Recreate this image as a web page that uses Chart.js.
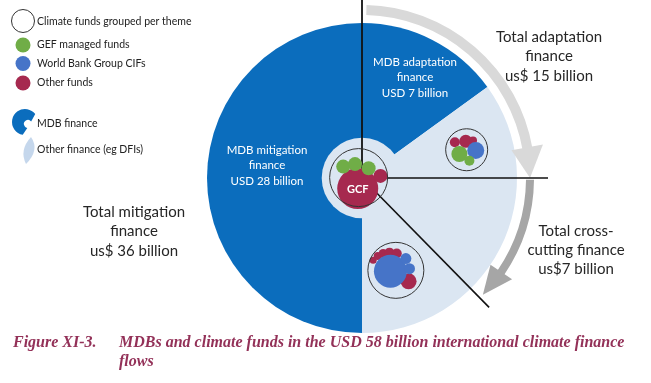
<!DOCTYPE html>
<html><head><meta charset="utf-8">
<script src="https://cdn.jsdelivr.net/npm/chart.js@4.4.0/dist/chart.umd.min.js"></script>
<style>
html,body{margin:0;padding:0;background:#fff;}
#wrap{position:relative;width:651px;height:383px;overflow:hidden;}
#wrap canvas{position:absolute;left:0;top:0;}
</style></head><body>
<div id="wrap"><canvas id="pie" width="651" height="383"></canvas><canvas id="funds" width="651" height="383"></canvas></div>
<script>
// ---- data ----
const sliceLabels = ['MDB mitigation finance', 'MDB adaptation finance', 'Other finance (eg DFIs)'];
const sliceShares = [180, 54, 126];            // share of the circle as drawn (degrees)
const mdbLabels = [['MDB mitigation', 'finance', 'USD 28 billion'], ['MDB adaptation', 'finance', 'USD 7 billion']];
const totalLabels = [
  ['Total mitigation', 'finance', 'us$ 36 billion'],
  ['Total adaptation', 'finance', 'us$ 15 billion'],
  ['Total cross-', 'cutting finance', 'us$7 billion']
];
const legendLabels = ['Climate funds grouped per theme', 'GEF managed funds', 'World Bank Group CIFs', 'Other funds', 'MDB finance', 'Other finance (eg DFIs)'];
const captionLabel = 'Figure XI-3.';
const captionLines = ['MDBs and climate funds in the USD 58 billion international climate finance', 'flows'];
// fund bubbles: offsets from the pie centre (x right, y up) and radius
const fundGroups = [{x: 0, y: 3, r: 29}, {x: 119, y: 36, r: 21}, {x: 41, y: -107, r: 28}];
const gefFunds = [{x: -17, y: 16, r: 7}, {x: -4, y: 19, r: 7}, {x: 11, y: 14, r: 7}, {x: 111, y: 31, r: 8}, {x: 122, y: 23, r: 5}];
const cifFunds = [{x: 129, y: 35, r: 8.5}, {x: 35, y: -108, r: 16.5}, {x: 52, y: -93, r: 5.5}, {x: 56, y: -105, r: 5.5}];
const otherFunds = [{x: -1, y: -10, r: 20.5}, {x: 24, y: 5, r: 7}, {x: 106, y: 45, r: 5}, {x: 118, y: 46, r: 6.5}, {x: 126, y: 47, r: 4},
  {x: 16, y: -95, r: 3.5}, {x: 21, y: -90, r: 4}, {x: 27, y: -87, r: 4.5}, {x: 34, y: -86, r: 5}, {x: 42, y: -87, r: 5}, {x: 55, y: -120, r: 8}];

// ---- styles ----
const DARK = '#0b6dbd', LIGHT = '#dbe6f2', GREEN = '#70ad47', BLUE = '#4674c8', RED = '#a6294f';
const SANS = 'Lato, "Open Sans", sans-serif';

function rad(deg) { return (deg - 90) * Math.PI / 180; } // north-clockwise degrees -> canvas angle
function pt(cx, cy, r, deg) { return [cx + r * Math.cos(rad(deg)), cy + r * Math.sin(rad(deg))]; }

function drawArrow(ctx, cx, cy, r, w, a0, a1, hw, a2, color) {
  ctx.strokeStyle = color; ctx.fillStyle = color; ctx.lineWidth = w; ctx.lineCap = 'butt';
  ctx.beginPath(); ctx.arc(cx, cy, r, rad(a0), rad(a1 + 0.5)); ctx.stroke();
  const b1 = pt(cx, cy, r - hw, a1), b2 = pt(cx, cy, r + hw, a1), t = pt(cx, cy, r, a2);
  ctx.beginPath(); ctx.moveTo(b1[0], b1[1]); ctx.lineTo(b2[0], b2[1]); ctx.lineTo(t[0], t[1]); ctx.closePath(); ctx.fill();
}
function lines(ctx, arr, x, y, lh) { arr.forEach((s, i) => ctx.fillText(s, x, y + i * lh)); }

const overlay = {
  id: 'overlay',
  afterDatasetsDraw(chart) {
    const ctx = chart.ctx;
    const arc = chart.getDatasetMeta(0).data[0];
    const cx = arc.x, cy = arc.y, R = arc.outerRadius;
    ctx.save();
    // centre hole
    ctx.fillStyle = LIGHT; ctx.beginPath(); ctx.arc(cx, cy, R * 0.26, 0, Math.PI * 2); ctx.fill();
    // arrows
    drawArrow(ctx, cx, cy, R * 1.084, 10, 1.5, 79.5, 16, 90, '#d9d9d9');
    drawArrow(ctx, cx, cy, R * 1.084, 8, 90.6, 124, 13, 134, '#a6a6a6');
    // black lines
    ctx.strokeStyle = '#111'; ctx.lineWidth = 1.8;
    ctx.beginPath(); ctx.moveTo(cx, cy); ctx.lineTo(cx, 0); ctx.stroke();
    ctx.lineWidth = 1.6;
    ctx.beginPath(); ctx.moveTo(cx + 20, cy); ctx.lineTo(cx + R * 1.2, cy); ctx.stroke();
    const d = pt(cx, cy, R * 1.17, 135.5);
    ctx.beginPath(); ctx.moveTo(cx, cy); ctx.lineTo(d[0], d[1]); ctx.stroke();
    // labels on the slices
    ctx.textAlign = 'center'; ctx.textBaseline = 'middle';
    ctx.fillStyle = '#fff'; ctx.font = '11.5px ' + SANS;
    lines(ctx, mdbLabels[0], cx - 95, cy - 28, 15.5);
    lines(ctx, mdbLabels[1], cx + 53, cy - 116, 15.5);
    // totals
    ctx.fillStyle = '#262626'; ctx.font = '15px ' + SANS;
    lines(ctx, totalLabels[0], 134, 212, 19.5);
    lines(ctx, totalLabels[1], 549, 37, 19.5);
    lines(ctx, totalLabels[2], 576, 231, 19);
    // legend
    ctx.textAlign = 'left'; ctx.font = '10.5px ' + SANS; ctx.fillStyle = '#222';
    const ly = [22, 45, 64, 83, 124, 150];
    legendLabels.forEach((s, i) => ctx.fillText(s, 37, ly[i]));
    ctx.strokeStyle = '#333'; ctx.lineWidth = 1;
    ctx.beginPath(); ctx.arc(23, 21, 11.5, 0, Math.PI * 2); ctx.stroke();
    [[GREEN, 45], [BLUE, 63.5], [RED, 83]].forEach(([c, y]) => { ctx.fillStyle = c; ctx.beginPath(); ctx.arc(23, y, 7.5, 0, Math.PI * 2); ctx.fill(); });
    ctx.fillStyle = DARK; ctx.beginPath();
    ctx.arc(25, 122, 13, 100 * Math.PI / 180, 322 * Math.PI / 180);
    ctx.arc(28, 124, 4, 322 * Math.PI / 180, 100 * Math.PI / 180, true); ctx.closePath(); ctx.fill();
    ctx.fillStyle = '#c5d7ec'; ctx.beginPath();
    ctx.moveTo(31, 137); ctx.quadraticCurveTo(40, 150, 26, 164); ctx.quadraticCurveTo(19, 150, 31, 137); ctx.fill();
    // caption
    ctx.fillStyle = '#933158'; ctx.font = 'bold italic 16px "Liberation Serif", serif';
    ctx.fillText(captionLabel, 13, 343);
    lines(ctx, captionLines, 119, 343, 18.5);
    ctx.restore();
  }
};

const pie = new Chart(document.getElementById('pie'), {
  type: 'doughnut',
  data: { labels: sliceLabels, datasets: [{ data: sliceShares, backgroundColor: [DARK, DARK, LIGHT], borderWidth: 0, hoverOffset: 0 }] },
  options: {
    responsive: false, animation: false, events: [], cutout: 0, rotation: 180,
    layout: { padding: { left: 207, right: 134, top: 23, bottom: 50 } },
    plugins: { legend: { display: false }, tooltip: { enabled: false } }
  },
  plugins: [overlay]
});

const c = pie.getDatasetMeta(0).data[0];
new Chart(document.getElementById('funds'), {
  type: 'bubble',
  data: { datasets: [
    { label: legendLabels[0], data: fundGroups, backgroundColor: 'rgba(0,0,0,0)', borderColor: '#333', borderWidth: 1 },
    { label: legendLabels[1], data: gefFunds, backgroundColor: GREEN, borderWidth: 0 },
    { label: legendLabels[2], data: cifFunds, backgroundColor: BLUE, borderWidth: 0 },
    { label: legendLabels[3], data: otherFunds, backgroundColor: RED, borderWidth: 0 }
  ] },
  options: {
    responsive: false, animation: false, events: [],
    layout: { padding: 0 },
    plugins: { legend: { display: false }, tooltip: { enabled: false } },
    scales: {
      x: { type: 'linear', display: false, min: -c.x, max: 651 - c.x },
      y: { type: 'linear', display: false, min: -(383 - c.y), max: c.y }
    }
  },
  plugins: [{
    id: 'gcf',
    afterDatasetsDraw(chart) {
      const p = chart.getDatasetMeta(3).data[0];
      const ctx = chart.ctx; ctx.save();
      ctx.fillStyle = '#fff'; ctx.font = 'bold 11px ' + SANS; ctx.textAlign = 'center'; ctx.textBaseline = 'middle';
      ctx.fillText('GCF', p.x, p.y + 1); ctx.restore();
    }
  }]
});
</script>
</body></html>
